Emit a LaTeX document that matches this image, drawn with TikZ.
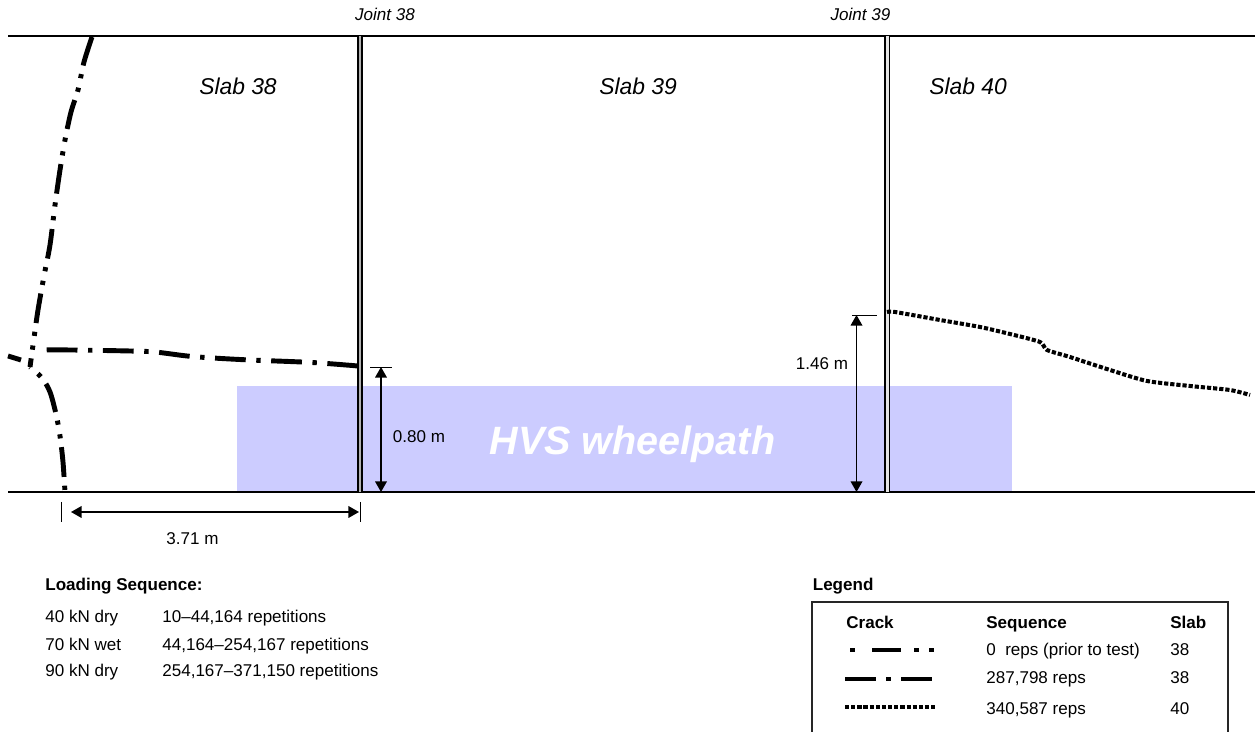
\documentclass[tikz,border=0pt]{standalone}
\usepackage{fontspec}
\setmainfont{Liberation Sans}
\usetikzlibrary{arrows.meta, positioning}

\newcommand{\lblfont}{\fontsize{9.7pt}{11.6pt}\selectfont}

\tikzset{
  slabedge/.style={line width=1.5pt},
  joint/.style={line width=1.1pt, double distance=1.7pt},
  dimline/.style={line width=0.85pt, {Triangle[length=6pt,width=6.6pt]}-{Triangle[length=6pt,width=6.6pt]}},
  dimtick/.style={line width=0.5pt},
  lbl/.style={font=\lblfont, inner sep=0pt},
  slabtext/.style={font=\fontsize{13pt}{15pt}\selectfont\itshape, inner sep=0pt},
  jointtext/.style={font=\lblfont\itshape, inner sep=0pt},
  hvstext/.style={font=\fontsize{22.5pt}{26pt}\selectfont\bfseries\itshape, text=white, inner sep=0pt},
  crackold/.style={line width=2.8pt, dash pattern=on 17pt off 5pt on 2.4pt off 5.5pt on 2.4pt off 5pt},
  crackoldkey/.style={line width=2.8pt, dash pattern=on 2.8pt off 10pt on 16.4pt off 7.4pt on 2.4pt off 6.2pt on 2.4pt off 10pt},
  crackmid/.style={line width=2.8pt, dash pattern=on 17.5pt off 6pt on 2.5pt off 6pt},
  cracknew/.style={line width=2.3pt, dash pattern=on 2.4pt off 1.1pt},
}

\begin{document}
\begin{tikzpicture}[x=0.02cm, y=-0.02cm]
  \useasboundingbox (0,0) rectangle (1255,732);

  % wheelpath
  \fill[blue!20] (237,386) rectangle (1012,492);
  \node[hvstext, anchor=base] (hvs) at (632.5,455) {HVS wheelpath};

  % slab edges and joints
  \draw[slabedge] (8,36) -- (1255,36);
  \draw[slabedge] (8,492) -- (1255,492);
  \coordinate (j38t) at (360,36);
  \coordinate (j38b) at (360,492);
  \coordinate (j39t) at (887,36);
  \coordinate (j39b) at (887,492);
  \draw[joint, double=gray!60] (j38t) -- (j38b);
  \draw[joint, line width=0.8pt, double=gray!20] (j39t) -- (j39b);

  \node[jointtext, anchor=base] (j38lbl) at (385,21) {Joint 38};
  \node[jointtext, anchor=base] (j39lbl) at (860.5,21) {Joint 39};
  \node[slabtext, anchor=base] (s38) at (238,95) {Slab 38};
  \node[slabtext, anchor=base] (s39) at (638,95) {Slab 39};
  \node[slabtext, anchor=base] (s40) at (968,95) {Slab 40};

  % cracks
  \draw[crackold] plot[smooth] coordinates {(92,37) (84,62) (78,90) (71,112) (65,140) (60,170) (55,205) (50,245) (44,276) (38,310) (34,338) (30,367)};
  \draw[crackold, dash phase=24pt] plot[smooth] coordinates {(30,367) (42,378) (50,392) (56,414) (60,436) (63,462) (65,492)};
  \draw[line width=2.8pt] (8,356) -- (21,360);
  \draw[crackmid] plot[smooth] coordinates {(358,366) (312,362.5) (250,360) (213,358) (187,356) (155,352) (130,351) (72,350) (40,350)};
  \draw[cracknew] plot[smooth, tension=0.4] coordinates {(887,312) (895,312) (940,320) (980,327) (1010,334) (1040,342) (1047,350) (1070,357) (1110,370) (1147,381) (1190,386) (1230,390) (1250,395)};

  % dimensions
  \coordinate (d080t) at (381,367);
  \coordinate (d080b) at (381,492);
  \draw[dimtick] (370,367) -- (392,367);
  \draw[dimline] (d080t) -- (d080b);
  \node[lbl, anchor=base] (d080) at (419,443) {0.80 m};

  \coordinate (d146t) at (856.5,315);
  \coordinate (d146b) at (856.5,492);
  \draw[dimtick] (852,315) -- (877,315);
  \draw[dimline] (d146t) -- (d146b);
  \node[lbl, anchor=base] (d146) at (822,370) {1.46 m};

  \coordinate (d371l) at (71,512);
  \coordinate (d371r) at (359,512);
  \draw[dimtick] (61,502) -- (61,522);
  \draw[dimtick] (360,502) -- (360,522);
  \draw[dimline] (d371l) -- (d371r);
  \node[lbl, anchor=base] (d371) at (192.5,545) {3.71 m};

  % loading sequence
  \node[lbl, font=\lblfont\bfseries, anchor=base west] (loadhead) at (45,591) {Loading Sequence:};
  \foreach \y/\ld/\reps in {623/{40 kN dry}/{10--44,164 repetitions}, 651/{70 kN wet}/{44,164--254,167 repetitions}, 677/{90 kN dry}/{254,167--371,150 repetitions}}{
    \node[lbl, anchor=base west] (load\y) at (45,\y) {\ld};
    \node[lbl, anchor=base west] (reps\y) at (162,\y) {\reps};
  }

  % legend
  \node[lbl, font=\lblfont\bfseries, anchor=base west] (leghead) at (812.5,591) {Legend};
  \draw[line width=0.9pt, black!85] (812,602) rectangle (1228,745);
  \node[lbl, font=\lblfont\bfseries, anchor=base west] (hcrack) at (846,629) {Crack};
  \node[lbl, font=\lblfont\bfseries, anchor=base west] (hseq) at (986,629) {Sequence};
  \node[lbl, font=\lblfont\bfseries, anchor=base west] (hslab) at (1170,629) {Slab};
  \foreach \ly/\ty/\xa/\xb/\s/\seq/\sl in {650/656/850/934/crackoldkey/{0\ \ reps (prior to test)}/38, 679/684/845/935/crackmid/{287,798 reps}/38, 707/715/845/935/cracknew/{340,587 reps}/40}{
    \draw[\s] (\xa,\ly) -- (\xb,\ly);
    \node[lbl, anchor=base west] (seq\ly) at (986,\ty) {\seq};
    \node[lbl, anchor=base west] (slab\ly) at (1170,\ty) {\sl};
  }
\end{tikzpicture}
\end{document}
